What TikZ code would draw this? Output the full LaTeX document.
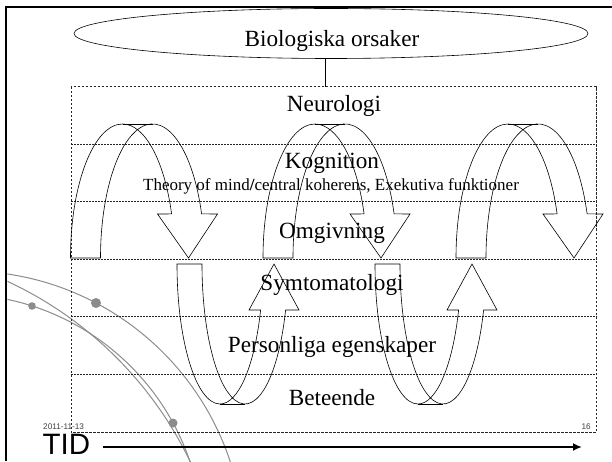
\documentclass[tikz,border=0pt]{standalone}
\usepackage{fontspec}
\setmainfont{Liberation Serif}
\newfontfamily\tidfont{Liberation Sans}
\usetikzlibrary{shapes.geometric,arrows.meta}
\tikzset{
 band/.style
  = {rectangle, minimum width=525pt, minimum height=57.5pt, inner sep=0pt},
 boxline/.style
  = {draw=black!85, dash pattern=on 2.5pt off 1.5pt, line width=0.6pt},
 sepline/.style
  = {draw=black!85, dash pattern=on 2pt off 1pt, line width=0.7pt},
 lbl/.style
  = {anchor=base, inner sep=0pt, font=\fontsize{23.2}{27}\selectfont},
 sub/.style
  = {anchor=base, inner sep=0pt, font=\fontsize{17}{20}\selectfont},
 stamp/.style
  = {inner sep=0pt, font=\tidfont\fontsize{8.2}{9}\selectfont, text=black!75},
 deco/.style
  = {draw=black!45, line width=1pt},
 dot/.style
  = {fill=black!45},
 arch/.style
  = {draw, line width=0.6pt},
}

\begin{document}
\begin{tikzpicture}[x=1pt,y=1pt]
\useasboundingbox (0,0) rectangle (612,461);

% Slide decoration
\begin{scope}
\clip (7.4,0) rectangle (612,452.6);
\draw[deco] (-33.4,-87.5) circle[radius=277.5];
\draw[deco] (-151.6,-164.5) circle[radius=379];
\draw[deco] (-43.6,-79.6) circle[radius=246.5];
\fill[dot] (96,158) circle[radius=5];
\fill[dot] (32,155) circle[radius=3.8];
\fill[dot] (173,38) circle[radius=4.5];
\end{scope}

% Slide frame
\draw[line width=2.3pt] (6.2,0) -- (6.2,453.8) -- (612,453.8);

% Causes
\node[draw, ellipse, line width=0.6pt, minimum width=514pt, minimum height=50pt,
      inner sep=0pt] (bio) at (331,427.5) {};
\node[lbl] (biotxt) at (332,414.5) {Biologiska orsaker};

% Bands
\node[band] (neuro) at (333.5,345.25) {};
\node[band] (kogn) at (333.5,287.75) {};
\node[band] (omgiv) at (333.5,230.25) {};
\node[band] (symtom) at (333.5,172.75) {};
\node[band] (person) at (333.5,115.25) {};
\node[band] (beteende) at (333.5,57.75) {};
\draw[boxline] (neuro.north west) rectangle (beteende.south east);
\foreach \b in {kogn,omgiv,symtom,person,beteende}
  \draw[sepline] (\b.north west) -- (\b.north east);

\coordinate (stem) at (325,0);
\draw[line width=0.6pt] (bio.south -| stem) -- (neuro.north -| stem);

% Band labels
\node[lbl] (neurotxt) at (334,349.3) {Neurologi};
\node[lbl] (kogntxt) at (332,292) {Kognition};
\node[sub] (theorytxt) at (331,270)
  {Theory of mind{\bfseries /}central koherens, Exekutiva funktioner};
\node[lbl] (omgivtxt) at (332,223) {Omgivning};
\node[lbl] (symtomtxt) at (332,171) {Symtomatologi};
\node[lbl] (persontxt) at (332,109) {Personliga egenskaper};
\node[lbl] (beteendetxt) at (332,56) {Beteende};

% Arrows down
\foreach \x in {70.5,263,456} {
  \draw[arch] (\x,203) arc[start angle=180, end angle=19.2, x radius=52, y radius=134]
    -- ({\x+87},247) -- ({\x+118},203) -- ({\x+147},247) -- ({\x+131.1},247.1)
    arc[start angle=19.2, end angle=180, x radius=52, y radius=134] -- cycle;
  \draw[arch] ({\x+52},337) -- ({\x+82},337);
}

% Arrows up
\foreach \x in {177,375} {
  \draw[arch] (\x,197) arc[start angle=180, end angle=340.8, x radius=43, y radius=140]
    -- ({\x+72},151) -- ({\x+97},197) -- ({\x+122},151) -- ({\x+108.6},151)
    arc[start angle=340.8, end angle=180, x radius=43, y radius=140] -- cycle;
  \draw[arch] ({\x+43},57) -- ({\x+68},57);
}

% Footer
\node[stamp, anchor=base west] (date) at (43,31.5) {2011-11-13};
\node[stamp, anchor=base east] (pagenr) at (591,31.5) {16};
\node[anchor=base west, inner sep=0pt, font=\tidfont\fontsize{29.5}{32}\selectfont]
  (tid) at (42.5,7) {TID};
\coordinate (tidend) at (582,14);
\draw[line width=2.5pt, -{Latex[length=9pt,width=8pt]}]
  ([xshift=13pt]tid.east |- tidend) -- (tidend);

\end{tikzpicture}
\end{document}
